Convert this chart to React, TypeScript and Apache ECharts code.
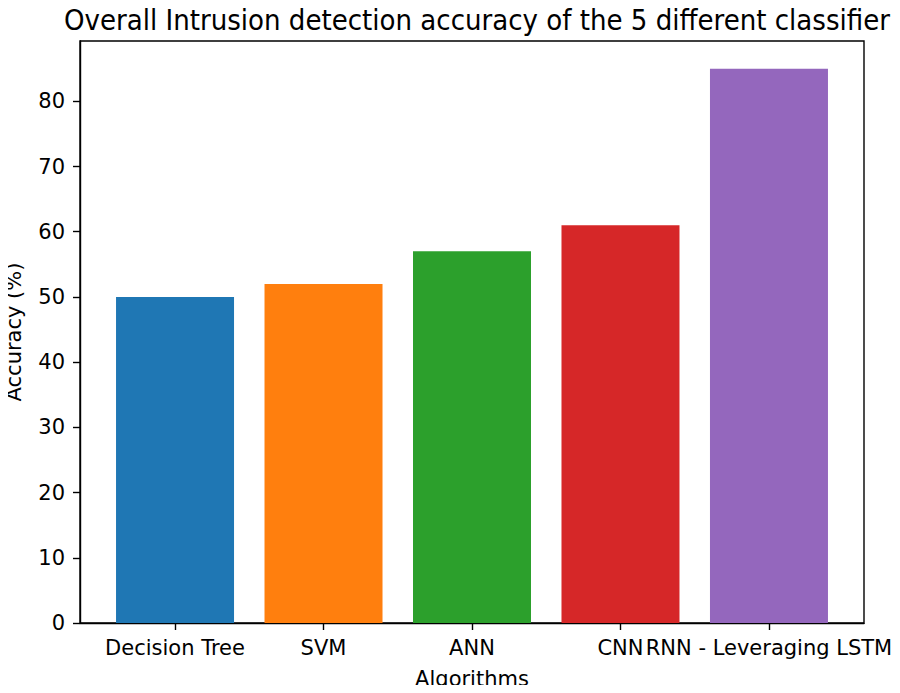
import React, { useEffect, useRef } from "react";
import * as echarts from "echarts";

const categories = ["Decision Tree", "SVM", "ANN", "CNN", "RNN - Leveraging LSTM"];
const accuracy = [50, 52, 57, 61, 85];
const barColors = ["#1f77b4", "#ff7f0e", "#2ca02c", "#d62728", "#9467bd"];
const yTicks = [0, 10, 20, 30, 40, 50, 60, 70, 80];
const titleText = "Overall Intrusion detection accuracy of the 5 different classifier";

export default function App() {
  const ref = useRef<HTMLDivElement>(null);
  useEffect(() => {
    if (!ref.current) return;
    const chart = echarts.init(ref.current, null, { renderer: "svg" });
    const font = "DejaVu Sans";
    const fs = 21;
    const xIdx = categories.map((_, i) => i);
    chart.setOption({
      animation: false,
      backgroundColor: "#ffffff",
      title: {
        text: titleText,
        left: 472,
        textAlign: "center",
        top: 0,
        textStyle: { fontFamily: "DejaVu Sans Condensed, DejaVu Sans", fontSize: 29, fontWeight: "normal", color: "#000" },
      },
      grid: {
        left: 80,
        right: 36,
        top: 41,
        bottom: 70,
        outerBoundsMode: "none",
        containLabel: false,
        show: true,
        borderColor: "#000",
        borderWidth: 1.4,
        backgroundColor: "transparent",
      },
      xAxis: {
        type: "value",
        min: -0.64,
        max: 4.64,
        name: "Algorithms",
        nameLocation: "middle",
        nameGap: 45,
        nameTextStyle: { fontFamily: font, fontSize: fs, color: "#000" },
        axisLine: { show: true, onZero: false, lineStyle: { color: "#000", width: 1.4 } },
        axisTick: { show: true, length: 7, customValues: xIdx, lineStyle: { color: "#000", width: 1.4 } },
        axisLabel: {
          customValues: xIdx,
          margin: 14,
          hideOverlap: false,
          fontFamily: font,
          fontSize: fs,
          color: "#000",
          formatter: (v: number) => categories[Math.round(v)] ?? "",
        },
        splitLine: { show: false },
      },
      yAxis: {
        type: "value",
        min: 0,
        max: 89.25,
        name: "Accuracy (%)",
        nameLocation: "middle",
        nameGap: 56,
        nameTextStyle: { fontFamily: font, fontSize: fs, color: "#000" },
        axisLine: { show: true, onZero: false, lineStyle: { color: "#000", width: 1.4 } },
        axisTick: { show: true, length: 7, customValues: yTicks, lineStyle: { color: "#000", width: 1.4 } },
        axisLabel: { customValues: yTicks, margin: 15, fontFamily: font, fontSize: fs, color: "#000" },
        splitLine: { show: false },
      },
      series: [
        {
          type: "bar",
          barWidth: 118,
          data: accuracy.map((v, i) => ({ value: [i, v], itemStyle: { color: barColors[i] } })),
        },
      ],
    });
    return () => chart.dispose();
  }, []);
  return <div ref={ref} style={{ width: 900, height: 693, margin: -8 }} />;
}
